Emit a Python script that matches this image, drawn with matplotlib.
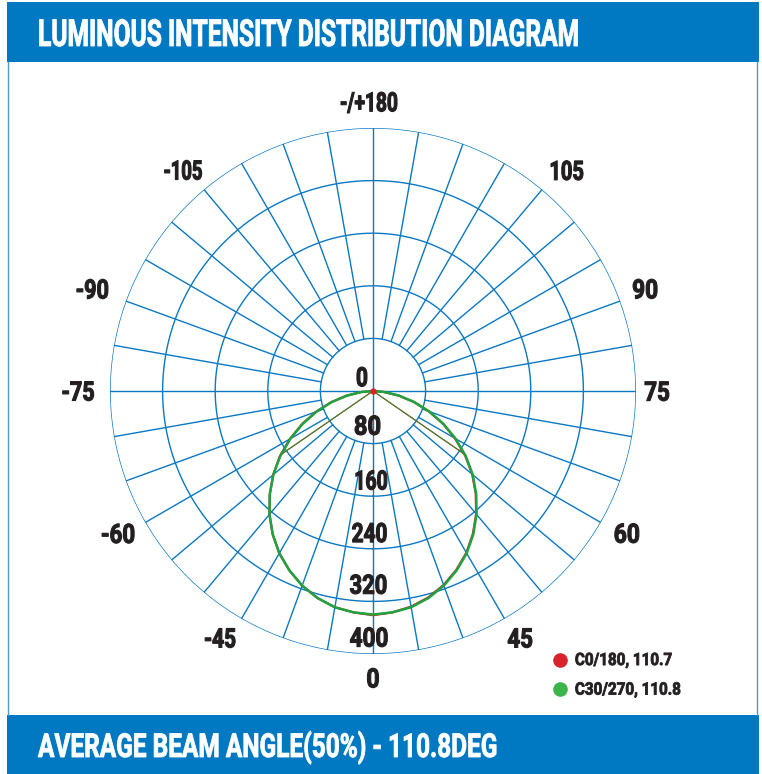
import numpy as np
import matplotlib
matplotlib.use("Agg")
import matplotlib.pyplot as plt
from matplotlib.patches import Rectangle
from matplotlib.lines import Line2D
from matplotlib.patheffects import AbstractPathEffect
from matplotlib.transforms import Affine2D
from matplotlib.textpath import TextPath
from matplotlib.font_manager import FontProperties, findfont

# ---------------- data ----------------
angles = [-90, -85, -80, -75, -70, -65, -60, -55, -50, -45, -40, -35, -30, -25, -20, -15, -10, -5,
          0, 5, 10, 15, 20, 25, 30, 35, 40, 45, 50, 55, 60, 65, 70, 75, 80, 85, 90]
c0_180 = [0, 18, 41, 66, 92, 119, 146, 173, 198, 222, 245, 266, 285, 301, 315, 326, 334, 338,
          341, 338, 333, 325, 314, 300, 284, 265, 244, 221, 197, 171, 144, 117, 90, 64, 39, 16, 0]
c30_270 = [0, 17, 40, 65, 91, 118, 145, 172, 198, 222, 245, 266, 285, 301, 315, 326, 334, 338,
           340, 338, 334, 326, 315, 301, 285, 266, 245, 222, 198, 172, 145, 118, 91, 65, 40, 17, 0]
series_names = ["C0/180", "C30/270"]
beam_angles = [110.7, 110.8]
ring_values = [80, 160, 240, 320, 400]
ring_labels = ["0", "80", "160", "240", "320", "400"]
angle_labels = ["0", "45", "60", "75", "90", "105", "-/+180", "-45", "-60", "-75", "-90", "-105"]
title = "LUMINOUS INTENSITY DISTRIBUTION DIAGRAM"
footer = "AVERAGE BEAM ANGLE(50%) - 110.8DEG"

# ---------------- style ----------------
BLUE = "#0079c2"
GRID = "#0b78c2"
DARK = "#231f20"
RED = "#d7232b"
GREEN = "#1fa33f"
LEG_GREEN = "#3bb54a"


def pick_font(cands):
    for c in cands:
        try:
            findfont(FontProperties(family=c, weight="bold"), fallback_to_default=False)
            return c
        except Exception:
            continue
    return "DejaVu Sans"


FAM = pick_font(["Liberation Sans Narrow", "Roboto", "Liberation Sans"])
FONT = [FAM, "DejaVu Sans"]
DPI = 100


class Scale2(AbstractPathEffect):
    """Scale (and optionally embolden) glyph outlines; text stays a real Text artist."""
    def __init__(self, sx, sy, ax_="center", ay_="center", stroke=0.0):
        super().__init__()
        self.sx, self.sy, self.ax_, self.ay_, self.stroke = sx, sy, ax_, ay_, stroke

    def draw_path(self, renderer, gc, tpath, affine, rgbFace=None):
        ext = tpath.get_extents()
        cx = 0.0 if self.ax_ == "left" else (ext.x0 + ext.x1) / 2.0
        cy = 0.0 if self.ay_ == "baseline" else (ext.y0 + ext.y1) / 2.0
        t = (Affine2D().translate(-cx, -cy).scale(self.sx, self.sy).translate(cx, cy) + affine)
        if self.stroke > 0 and rgbFace is not None:
            gc0 = renderer.new_gc()
            gc0.copy_properties(gc)
            gc0.set_linewidth(self.stroke)
            gc0.set_foreground(rgbFace)
            gc0.set_joinstyle("round")
            renderer.draw_path(gc0, tpath, t, rgbFace)
            gc0.restore()
        else:
            renderer.draw_path(gc, tpath, t, rgbFace)


def fit(t, target_w, target_h, sx=1.0, href="0", ax_="center", ay_="center", size=None,
        stroke=0.0):
    fp = t.get_fontproperties()
    if size is None:
        s0 = fp.get_size_in_points()
        w = TextPath((0, 0), t.get_text(), size=s0, prop=fp).get_extents().width * DPI / 72
        size = s0 * (target_w / sx) / w
    t.set_fontsize(size)
    fp = t.get_fontproperties()
    cap = TextPath((0, 0), href, size=size, prop=fp).get_extents().height * DPI / 72
    t.set_path_effects([Scale2(sx, target_h / cap, ax_, ay_, stroke)])
    return size


W, H = 762, 774
fig = plt.figure(figsize=(W / DPI, H / DPI), dpi=DPI)
fig.patch.set_facecolor("white")

# header / footer bars and side borders
fig.patches.append(Rectangle((7 / W, 1 - 62 / H), (759 - 7) / W, 60 / H,
                             transform=fig.transFigure, facecolor=BLUE, edgecolor="none"))
fig.patches.append(Rectangle((7 / W, 0), (759 - 7) / W, (H - 715) / H,
                             transform=fig.transFigure, facecolor=BLUE, edgecolor="none"))
for xb in (8, 757):
    fig.lines.append(Line2D([xb / W, xb / W], [1 - 62 / H, 1 - 715 / H],
                            transform=fig.transFigure, color="#4d9ad6", lw=1.0))

t_title = fig.text(38 / W, 1 - 46 / H, title, color="white", fontsize=20,
                   family=FONT, weight="bold", ha="left", va="baseline")
fit(t_title, 538, 26.5, sx=0.8, href="H", ax_="left", ay_="baseline", stroke=0.6)
t_foot = fig.text(38 / W, 1 - 757 / H, footer, color="white", fontsize=20,
                  family=FONT, weight="bold", ha="left", va="baseline")
fit(t_foot, 458, 23.5, sx=0.8, href="H", ax_="left", ay_="baseline", stroke=0.6)

# polar axes: centre (373, 391) px, outer radius 263 px
cx_px, cy_px, R_px = 373, 391, 263
ax = fig.add_axes([(cx_px - R_px) / W, (H - cy_px - R_px) / H, 2 * R_px / W, 2 * R_px / H],
                  projection="polar")
ax.set_theta_zero_location("S")
ax.set_theta_direction(1)
ax.set_rlim(0, 400)
ax.set_axis_off()

# grid
th = np.linspace(0, 2 * np.pi, 721)
for rv in ring_values:
    ax.plot(th, np.full_like(th, rv), color=GRID, lw=1.0, zorder=1)
for a in range(0, 360, 10):
    r0 = 0 if a % 90 == 0 else ring_values[0]
    ax.plot([np.deg2rad(a)] * 2, [r0, ring_values[-1]], color=GRID, lw=1.0, zorder=1)

# curves
th_data = np.deg2rad(angles)
ax.plot(th_data, c0_180, color=RED, lw=1.6, zorder=3)
ax.plot(th_data, c30_270, color=GREEN, lw=1.8, zorder=4)

# beam angle lines (half of max intensity)
for vals, ba, col, z in [(c0_180, beam_angles[0], RED, 3), (c30_270, beam_angles[1], "#3a8a30", 4)]:
    half = max(vals) / 2
    for s in (-1, 1):
        ax.plot([0, np.deg2rad(s * ba / 2)], [0, half], color=col, lw=0.8, zorder=z)
ax.plot([0], [0], marker="o", ms=3.5, color=RED, zorder=5)

# ring labels along the 0 direction (layout: x-offset px, y-offset px, ink width px)
ring_layout = [(-11, 12.5, 11), (-5.5, 16, 26), (-2, 14.5, 32), (-3.5, 14.5, 35),
               (-4.5, 15, 37), (-4, 15, 38)]
for i, lab in enumerate(ring_labels):
    val = 0 if i == 0 else ring_values[i - 1]
    dx, dy, wpx = ring_layout[i]
    t = ax.annotate(lab, xy=(0, val), xytext=(dx * 0.72, dy * 0.72), textcoords="offset points",
                    ha="center", va="center", fontsize=16, family=FONT, weight="bold",
                    color=DARK, zorder=6, annotation_clip=False)
    fit(t, wpx - 1, 19.5, sx=0.9, stroke=0.8)

# angle labels around the diagram (angle deg, radius px, ink width px)
label_pos = [(0, 289, 12), (30.6, 289, 25), (60.4, 292, 25), (89.6, 284, 25), (110.2, 290, 25),
             (138.5, 292, 33), (180.8, 287, 57), (-31.6, 292, 31), (-60.5, 293, 33),
             (-89.6, 295, 32), (-109.6, 298, 32), (-139.1, 290, 38)]
scale = 400 / R_px
for lab, (a, rp, wpx) in zip(angle_labels, label_pos):
    t = ax.text(np.deg2rad(a), rp * scale, lab, ha="center", va="center", fontsize=16,
                family=FONT, weight="bold", color=DARK, clip_on=False)
    fit(t, wpx - 1, 19.5, sx=0.9, stroke=0.8)

# legend
handles = [Line2D([], [], ls="none", marker="o", ms=9.5, mfc=RED, mec=RED),
           Line2D([], [], ls="none", marker="o", ms=9.5, mfc=LEG_GREEN, mec=LEG_GREEN)]
labels = [f"{n}, {b}" for n, b in zip(series_names, beam_angles)]
leg = fig.legend(handles, labels, loc="upper left", bbox_to_anchor=(552 / W, 1 - 653 / H),
                 frameon=False, handlelength=1.0, handletextpad=0.5, borderpad=0,
                 borderaxespad=0, labelspacing=0.95,
                 prop={"family": FONT, "weight": "bold", "size": 11}, labelcolor=DARK)
lt = leg.get_texts()
sz = fit(lt[0], 96, 12.5, sx=0.9, ax_="left", stroke=0.6)
fit(lt[1], 110, 12.5, sx=0.9, ax_="left", size=sz, stroke=0.6)

fig.savefig("out.png", dpi=DPI)
